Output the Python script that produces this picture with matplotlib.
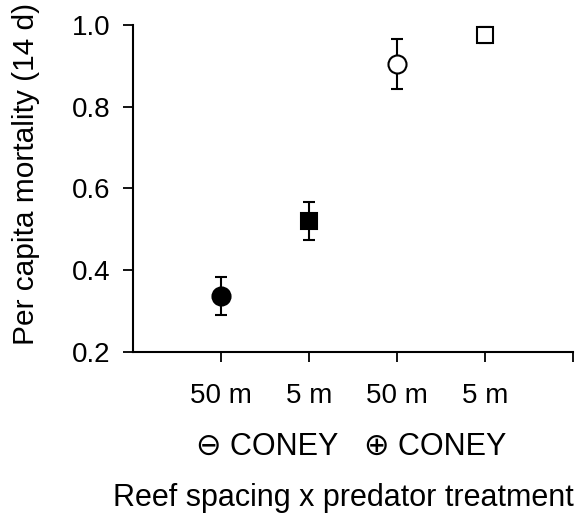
import numpy as np
import matplotlib.pyplot as plt

plt.rcParams['font.family'] = ['Liberation Sans', 'DejaVu Sans']

# treatments: coney absent (50 m, 5 m), coney present (50 m, 5 m)
spacing = ['50 m', '5 m', '50 m', '5 m']
mortality = [0.337, 0.520, 0.904, 0.975]
se = [0.047, 0.046, 0.062, 0.020]
markers = ['o', 's', 'o', 's']
fills = ['black', 'black', 'white', 'white']
sizes = [13, 11, 13, 11]
groups = ['\u2296 CONEY', '\u2295 CONEY']

fig = plt.figure(figsize=(5.77, 5.18), dpi=100)
ax = fig.add_axes([0.2305, 0.3205, 0.7625, 0.6315])

xpos = np.arange(1, len(mortality) + 1)
for i in range(len(mortality)):
    ax.errorbar(xpos[i], mortality[i], yerr=se[i], fmt=markers[i],
                color='black', mfc=fills[i], mec='black', ms=sizes[i],
                mew=1.5, elinewidth=1.5, capsize=4.5, capthick=1.5, zorder=3)

ax.set_xlim(0, 5)
ax.set_ylim(0.2, 1.0)
ax.set_yticks([0.2, 0.4, 0.6, 0.8, 1.0])
ax.set_yticklabels(['0.2', '0.4', '0.6', '0.8', '1.0'])
ax.set_xticks([1, 2, 3, 4, 5])
ax.set_xticklabels(spacing + [''])
ax.spines['top'].set_visible(False)
ax.spines['right'].set_visible(False)
for s in ['left', 'bottom']:
    ax.spines[s].set_linewidth(1.5)
ax.tick_params(axis='both', direction='out', length=7, width=1.3,
               labelsize=20, pad=9)
ax.tick_params(axis='x', pad=15)

fig.text(26 / 577, 1 - 174 / 518, 'Per capita mortality (14 d)', rotation=90,
         ha='center', va='center', fontsize=21.5)

for gx, g in zip([1.52, 3.43], groups):
    ax.annotate(g, xy=(gx, 0), xycoords=('data', 'axes fraction'),
                xytext=(0, -68), textcoords='offset points',
                ha='center', va='center', fontsize=22)

ax.annotate('Reef spacing x predator treatment', xy=(2.39, 0),
            xycoords=('data', 'axes fraction'), xytext=(0, -105),
            textcoords='offset points', ha='center', va='center', fontsize=22)

fig.savefig('out.png', dpi=100)
